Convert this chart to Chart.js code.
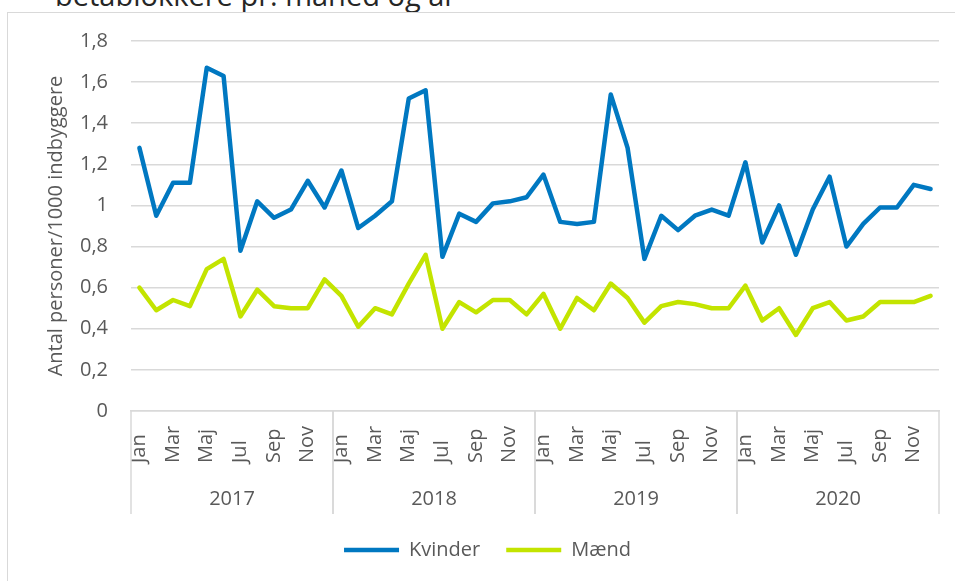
<!DOCTYPE html>
<html lang="da">
<head>
    <meta charset="UTF-8" />
    <title>Betablokkere pr. måned og år</title>
    <style>
        body { margin: 0; background: #fff; font-family: "Open Sans", sans-serif; overflow: hidden; }
        .frame { position: absolute; left: 7px; top: 12px; width: 1000px; height: 700px; border-top: 1px solid #d9d9d9; border-left: 1px solid #d9d9d9; }
        .title { position: absolute; left: 55px; top: -20px; font-size: 29px; line-height: 29px; color: #262626; white-space: nowrap; }
        .wrap { position: absolute; left: 0; top: 0; width: 955px; height: 581px; }
    </style>
    <script src="https://cdn.jsdelivr.net/npm/chart.js"></script>
</head>
<body>
    <div class="title">betablokkere pr. måned og år</div>
    <div class="frame"></div>
    <div class="wrap"><canvas id="chart"></canvas></div>
    <script>
        const months = ['Jan', 'Feb', 'Mar', 'Apr', 'Maj', 'Jun', 'Jul', 'Aug', 'Sep', 'Okt', 'Nov', 'Dec'];
        const years = ['2017', '2018', '2019', '2020'];
        const yTicks = [0, 0.2, 0.4, 0.6, 0.8, 1, 1.2, 1.4, 1.6, 1.8];

        const kvinder = [
            1.28, 0.95, 1.11, 1.11, 1.67, 1.63, 0.78, 1.02, 0.94, 0.98, 1.12, 0.99,
            1.17, 0.89, 0.95, 1.02, 1.52, 1.56, 0.75, 0.96, 0.92, 1.01, 1.02, 1.04,
            1.15, 0.92, 0.91, 0.92, 1.54, 1.28, 0.74, 0.95, 0.88, 0.95, 0.98, 0.95,
            1.21, 0.82, 1.00, 0.76, 0.98, 1.14, 0.80, 0.91, 0.99, 0.99, 1.10, 1.08
        ];
        const maend = [
            0.60, 0.49, 0.54, 0.51, 0.69, 0.74, 0.46, 0.59, 0.51, 0.50, 0.50, 0.64,
            0.56, 0.41, 0.50, 0.47, 0.62, 0.76, 0.40, 0.53, 0.48, 0.54, 0.54, 0.47,
            0.57, 0.40, 0.55, 0.49, 0.62, 0.55, 0.43, 0.51, 0.53, 0.52, 0.50, 0.50,
            0.61, 0.44, 0.50, 0.37, 0.50, 0.53, 0.44, 0.46, 0.53, 0.53, 0.53, 0.56
        ];

        const labels = [];
        years.forEach(y => months.forEach(m => labels.push(m + ' ' + y)));

        const FONT = '"Open Sans", sans-serif';
        const TEXT = '#595959';
        const GRID = '#d9d9d9';

        // month labels (every other) + year row with separators under the x axis
        const groupAxis = {
            id: 'groupAxis',
            afterDraw(chart) {
                const ctx = chart.ctx;
                const x = chart.scales.x;
                const top = x.top;
                const bottom = top + 103;
                ctx.save();
                ctx.fillStyle = TEXT;
                ctx.font = '20px ' + FONT;
                for (let i = 0; i < labels.length; i += 2) {
                    const px = x.getPixelForValue(i);
                    ctx.save();
                    ctx.translate(px, top + 52);
                    ctx.rotate(-Math.PI / 2);
                    ctx.textAlign = 'left';
                    ctx.textBaseline = 'middle';
                    ctx.fillText(months[i % 12], 0, 0);
                    ctx.restore();
                }
                ctx.strokeStyle = GRID;
                ctx.lineWidth = 1.5;
                ctx.textAlign = 'center';
                ctx.textBaseline = 'middle';
                years.forEach((yr, k) => {
                    const first = x.getPixelForValue(k * 12);
                    const last = x.getPixelForValue(k * 12 + 11);
                    const half = (x.getPixelForValue(1) - x.getPixelForValue(0)) / 2;
                    const l = first - half, r = last + half;
                    ctx.beginPath();
                    ctx.moveTo(l, top); ctx.lineTo(l, bottom);
                    ctx.moveTo(r, top); ctx.lineTo(r, bottom);
                    ctx.stroke();
                    ctx.fillText(yr, (l + r) / 2, top + 88);
                });
                ctx.restore();
            }
        };

        new Chart(document.getElementById('chart'), {
            type: 'line',
            data: {
                labels: labels,
                datasets: [
                    { label: 'Kvinder', data: kvinder, borderColor: '#0078c1', backgroundColor: '#0078c1', borderWidth: 4.5, pointRadius: 0, tension: 0, borderJoinStyle: 'round', borderCapStyle: 'round', pointStyle: 'line' },
                    { label: 'Mænd', data: maend, borderColor: '#c3e400', backgroundColor: '#c3e400', borderWidth: 4.5, pointRadius: 0, tension: 0, borderJoinStyle: 'round', borderCapStyle: 'round', pointStyle: 'line' }
                ]
            },
            options: {
                responsive: true,
                maintainAspectRatio: false,
                animation: false,
                layout: { padding: { left: 36, right: 16, top: 41, bottom: 11 } },
                plugins: {
                    tooltip: { enabled: false },
                    legend: {
                        position: 'bottom',
                        labels: { usePointStyle: true, pointStyleWidth: 55, color: TEXT, font: { family: FONT, size: 20 }, padding: 26 }
                    }
                },
                scales: {
                    x: {
                        offset: true,
                        grid: { display: false },
                        border: { display: true, color: GRID, width: 1.5 },
                        ticks: { display: false },
                        afterFit(scale) { scale.height = 103; }
                    },
                    y: {
                        min: 0, max: 1.8,
                        afterBuildTicks(scale) { scale.ticks = yTicks.map(v => ({ value: v })); },
                        grid: { color: GRID, lineWidth: 1.5, drawTicks: false },
                        border: { display: false },
                        ticks: {
                            color: TEXT, padding: 23, font: { family: FONT, size: 20 },
                            callback: v => String(Math.round(v * 10) / 10).replace('.', ',')
                        },
                        title: { display: true, text: 'Antal personer/1000 indbyggere', color: TEXT, font: { family: FONT, size: 20 }, padding: { top: 8, bottom: 0 } },
                        afterFit(scale) { scale.width = 95; }
                    }
                }
            },
            plugins: [groupAxis]
        });
    </script>
</body>
</html>
